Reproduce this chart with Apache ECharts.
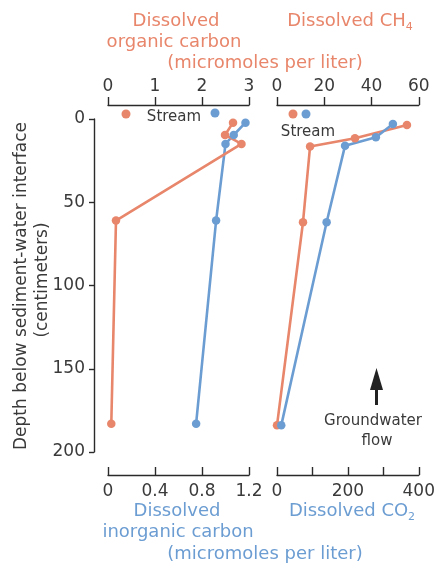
<!DOCTYPE html>
<html>
<head>
<meta charset="utf-8">
<script src="https://cdn.jsdelivr.net/npm/echarts@6/dist/echarts.min.js"></script>
<style>
html,body{margin:0;padding:0;background:#fff;}
#c{width:438px;height:564px;}
</style>
</head>
<body>
<div id="c"></div>
<script>
// Depth below sediment-water interface (cm)
const depthDOC = [2.2, 9.6, 15, 61, 183];
const valuesDOC = [2.66, 2.49, 2.84, 0.17, 0.07];   // dissolved organic carbon
const depthDIC = [2.2, 9.6, 15, 61, 183];
const valuesDIC = [1.17, 1.07, 1.00, 0.92, 0.75];   // dissolved inorganic carbon
const depthCH4 = [3.6, 11.6, 16.5, 62, 184];
const valuesCH4 = [55, 33, 14, 11, 0];              // dissolved CH4
const depthCO2 = [3, 11, 16, 62, 184];
const valuesCO2 = [327, 279, 192, 140, 12];          // dissolved CO2
const depthTicks = [0, 50, 100, 150, 200];

const ORANGE = '#E8866B';
const BLUE = '#6C9DD2';
const DARK = '#3a3a3a';
const AX = '#2a2a2a';
const FONT = 'DejaVu Sans';

function pairs(xs, ys) { return xs.map((v, i) => [v, ys[i]]); }

const chart = echarts.init(document.getElementById('c'), null, {renderer: 'canvas'});

const axisLine = {show: true, onZero: false, lineStyle: {color: AX, width: 1.4}};
const tickStyle = {color: AX, width: 1.4};
const lbl = {color: DARK, fontFamily: FONT, fontSize: 17};

function txt(x, y, text, color, size, extra) {
  return Object.assign({
    type: 'text', x: x, y: y, z: 10,
    style: Object.assign({text: text, fill: color, font: size + 'px "' + FONT + '"', textAlign: 'center', textVerticalAlign: 'middle'}, extra || {})
  });
}

const option = {
  animation: false,
  backgroundColor: '#fff',
  grid: [
    {left: 108, width: 141, top: 119, height: 333},
    {left: 277, width: 142, top: 119, height: 333}
  ],
  xAxis: [
    {type: 'value', gridIndex: 0, position: 'top', offset: 14, min: 0, max: 3, interval: 1,
      axisLine: axisLine, axisTick: {show: true, inside: false, length: 8, lineStyle: tickStyle},
      axisLabel: Object.assign({margin: 10}, lbl), splitLine: {show: false}},
    {type: 'value', gridIndex: 0, position: 'bottom', offset: 23, min: 0, max: 1.2, interval: 0.4,
      axisLine: axisLine, axisTick: {show: true, inside: true, length: 8, lineStyle: tickStyle},
      axisLabel: Object.assign({margin: 8}, lbl), splitLine: {show: false}},
    {type: 'value', gridIndex: 1, position: 'top', offset: 14, min: 0, max: 60, interval: 20,
      axisLine: axisLine, axisTick: {show: true, inside: false, length: 8, lineStyle: tickStyle},
      axisLabel: Object.assign({margin: 10}, lbl), splitLine: {show: false}},
    {type: 'value', gridIndex: 1, position: 'bottom', offset: 23, min: 0, max: 400, interval: 100,
      axisLine: axisLine, axisTick: {show: true, inside: true, length: 8, lineStyle: tickStyle},
      axisLabel: Object.assign({margin: 8, formatter: v => (v % 200 === 0 ? String(v) : '')}, lbl), splitLine: {show: false}}
  ],
  yAxis: [
    {type: 'value', gridIndex: 0, inverse: true, position: 'left', offset: 14, min: depthTicks[0], max: depthTicks[depthTicks.length - 1], interval: 50,
      axisLine: axisLine, axisTick: {show: true, inside: false, length: 5, lineStyle: tickStyle},
      axisLabel: Object.assign({margin: 9}, lbl), splitLine: {show: false}},
    {type: 'value', gridIndex: 1, inverse: true, min: 0, max: 200, show: false, splitLine: {show: false}}
  ],
  series: [
    {type: 'line', name: 'DIC', xAxisIndex: 1, yAxisIndex: 0, data: pairs(valuesDIC, depthDIC),
      symbol: 'circle', symbolSize: 8.5, itemStyle: {color: BLUE}, lineStyle: {color: BLUE, width: 2.6}},
    {type: 'line', name: 'DOC', xAxisIndex: 0, yAxisIndex: 0, data: pairs(valuesDOC, depthDOC),
      symbol: 'circle', symbolSize: 8.5, itemStyle: {color: ORANGE}, lineStyle: {color: ORANGE, width: 2.6}},
    {type: 'line', name: 'CH4', xAxisIndex: 2, yAxisIndex: 1, data: pairs(valuesCH4, depthCH4),
      symbol: 'circle', symbolSize: 8.5, itemStyle: {color: ORANGE}, lineStyle: {color: ORANGE, width: 2.6}},
    {type: 'line', name: 'CO2', xAxisIndex: 3, yAxisIndex: 1, data: pairs(valuesCO2, depthCO2),
      symbol: 'circle', symbolSize: 8.5, itemStyle: {color: BLUE}, lineStyle: {color: BLUE, width: 2.6}}
  ],
  graphic: [
    // top titles
    txt(176, 21, 'Dissolved', ORANGE, 18),
    txt(174, 42, 'organic carbon', ORANGE, 18),
    txt(265, 63, '(micromoles per liter)', ORANGE, 18),
    {type: 'text', x: 350, y: 21, z: 10, style: {
      text: '{a|Dissolved CH}{s|4}', textAlign: 'center', textVerticalAlign: 'middle',
      rich: {a: {fill: ORANGE, fontFamily: FONT, fontSize: 18}, s: {fill: ORANGE, fontFamily: FONT, fontSize: 11, padding: [12, 0, 0, 0]}}
    }},
    // bottom titles
    txt(177, 511, 'Dissolved', BLUE, 18),
    txt(178, 532, 'inorganic carbon', BLUE, 18),
    txt(265, 554, '(micromoles per liter)', BLUE, 18),
    {type: 'text', x: 352, y: 511, z: 10, style: {
      text: '{a|Dissolved CO}{s|2}', textAlign: 'center', textVerticalAlign: 'middle',
      rich: {a: {fill: BLUE, fontFamily: FONT, fontSize: 18}, s: {fill: BLUE, fontFamily: FONT, fontSize: 11, padding: [12, 0, 0, 0]}}
    }},
    // y axis title
    {type: 'text', x: 22, y: 286, rotation: Math.PI / 2, z: 10, style: {text: 'Depth below sediment-water interface', fill: DARK, font: '17px "' + FONT + '"', textAlign: 'center', textVerticalAlign: 'middle'}},
    {type: 'text', x: 43, y: 280, rotation: Math.PI / 2, z: 10, style: {text: '(centimeters)', fill: DARK, font: '17px "' + FONT + '"', textAlign: 'center', textVerticalAlign: 'middle'}},
    // Stream markers, left panel
    {type: 'circle', shape: {cx: 126, cy: 114, r: 4.5}, style: {fill: ORANGE}, z: 10},
    txt(174, 117, 'Stream', DARK, 15),
    {type: 'circle', shape: {cx: 215, cy: 113, r: 4.5}, style: {fill: BLUE}, z: 10},
    // Stream markers, right panel
    {type: 'circle', shape: {cx: 293, cy: 114, r: 4.5}, style: {fill: ORANGE}, z: 10},
    {type: 'circle', shape: {cx: 306, cy: 114, r: 4.5}, style: {fill: BLUE}, z: 10},
    txt(308, 132, 'Stream', DARK, 15),
    // groundwater flow arrow
    {type: 'line', shape: {x1: 376.5, y1: 388, x2: 376.5, y2: 405}, style: {stroke: '#222', lineWidth: 3}, z: 10},
    {type: 'polygon', shape: {points: [[376.5, 368], [370, 390], [383, 390]]}, style: {fill: '#222'}, z: 10},
    txt(373, 421, 'Groundwater', DARK, 15),
    txt(377, 441, 'flow', DARK, 15)
  ]
};
chart.setOption(option);
</script>
</body>
</html>
